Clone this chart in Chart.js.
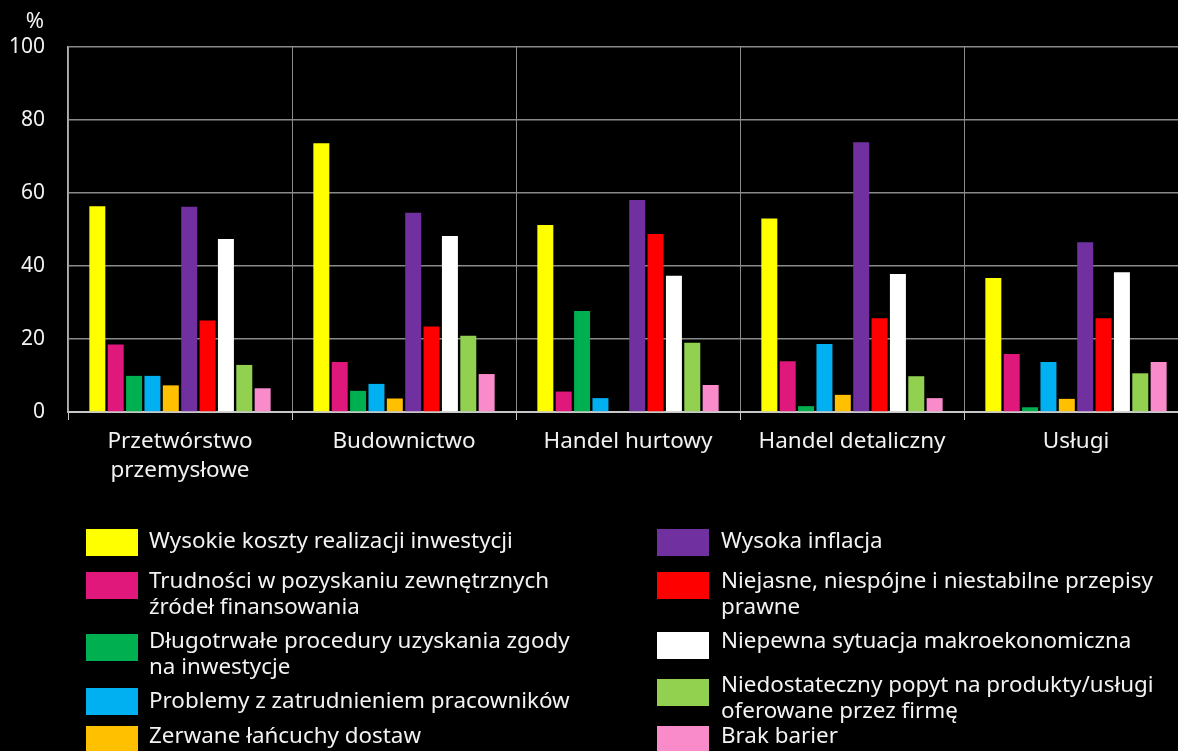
<!DOCTYPE html>
<html>
<head>
<meta charset="utf-8">
<script src="https://cdn.jsdelivr.net/npm/chart.js@4.4.1/dist/chart.umd.min.js"></script>
<style>
  html, body { margin: 0; padding: 0; background: #000; overflow: hidden; }
  #wrap { width: 1178px; height: 751px; overflow: hidden; }
</style>
</head>
<body>
<div id="wrap"><canvas id="chart" width="1190" height="751"></canvas></div>
<script>
// categories (sectors)
const categories = [['Przetwórstwo', 'przemysłowe'], 'Budownictwo', 'Handel hurtowy', 'Handel detaliczny', 'Usługi'];

// series names
const seriesNames = [
    ['Wysokie koszty realizacji inwestycji'],
    ['Trudności w pozyskaniu zewnętrznych', 'źródeł finansowania'],
    ['Długotrwałe procedury uzyskania zgody', 'na inwestycje'],
    ['Problemy z zatrudnieniem pracowników'],
    ['Zerwane łańcuchy dostaw'],
    ['Wysoka inflacja'],
    ['Niejasne, niespójne i niestabilne przepisy', 'prawne'],
    ['Niepewna sytuacja makroekonomiczna'],
    ['Niedostateczny popyt na produkty/usługi', 'oferowane przez firmę'],
    ['Brak barier']
];

// values in %, per series, in category order
const wysokieKoszty   = [56.4, 73.6, 51.2, 53.0, 36.7];
const trudnosciFin    = [18.5, 13.7, 5.6, 13.9, 15.9];
const procedury       = [9.9, 5.8, 27.7, 1.6, 1.3];
const zatrudnienie    = [9.9, 7.7, 3.8, 18.6, 13.7];
const lancuchyDostaw  = [7.3, 3.7, 0, 4.7, 3.6];
const inflacja        = [56.2, 54.6, 58.1, 73.9, 46.5];
const przepisy        = [25.1, 23.4, 48.8, 25.7, 25.7];
const sytuacjaMakro   = [47.4, 48.2, 37.3, 37.8, 38.3];
const popyt           = [12.9, 20.9, 19.0, 9.8, 10.6];
const brakBarier      = [6.5, 10.4, 7.4, 3.8, 13.7];

const yTicks = [0, 20, 40, 60, 80, 100];

const allValues = [wysokieKoszty, trudnosciFin, procedury, zatrudnienie, lancuchyDostaw,
                   inflacja, przepisy, sytuacjaMakro, popyt, brakBarier];
const colors = ['#FFFF00', '#E0187B', '#00B050', '#00B0F0', '#FFC000',
                '#7030A0', '#FF0000', '#FFFFFF', '#92D050', '#F98BCB'];

const FONT = '"Noto Sans", sans-serif';

// legend + "%" label drawn on the canvas
const legendPlugin = {
    id: 'customLegend',
    afterDraw(chart) {
        const ctx = chart.ctx;
        ctx.save();
        ctx.fillStyle = '#F2F2F2';
        ctx.font = '22px ' + FONT;
        ctx.textAlign = 'center';
        ctx.textBaseline = 'middle';
        ctx.fillText('%', 35, 22);

        // rows: [box top, first text line middle]
        const rowsLeft = [[529, 542], [572, 582], [634, 642], [688, 702], [726, 737]];
        const rowsRight = [[529, 542], [572, 582], [632, 642], [679, 686], [726, 737]];
        ctx.textAlign = 'left';
        ctx.font = '22.4px ' + FONT;
        for (let i = 0; i < seriesNames.length; i++) {
            const right = i >= 5;
            const row = right ? rowsRight[i - 5] : rowsLeft[i];
            const boxX = right ? 657 : 86;
            const textX = right ? 721 : 149;
            ctx.fillStyle = colors[i];
            ctx.fillRect(boxX, row[0], 52, 27);
            ctx.fillStyle = '#F2F2F2';
            seriesNames[i].forEach((line, k) => {
                ctx.fillText(line, textX, row[1] + k * 26);
            });
        }
        ctx.restore();
    }
};

const ctx = document.getElementById('chart').getContext('2d');
new Chart(ctx, {
    type: 'bar',
    data: {
        labels: categories,
        datasets: allValues.map((vals, i) => ({
            label: seriesNames[i].join(' '),
            data: vals,
            backgroundColor: colors[i],
            borderWidth: 0,
            categoryPercentage: 0.82,
            barPercentage: 0.87
        }))
    },
    options: {
        responsive: false,
        devicePixelRatio: 1,
        animation: false,
        layout: { padding: { top: 47, right: 2, bottom: 259, left: 0 } },
        plugins: {
            legend: { display: false },
            tooltip: { enabled: false }
        },
        scales: {
            x: {
                afterFit(scale) { scale.height = 80; },
                grid: {
                    offset: true,
                    color: '#8A8A8A',
                    lineWidth: 1,
                    tickLength: 8,
                    tickColor: '#C8C8C8'
                },
                border: { color: '#C8C8C8', width: 2 },
                ticks: {
                    color: '#F2F2F2',
                    font: { family: FONT, size: 22.5, lineHeight: 1.25 },
                    padding: 8,
                    maxRotation: 0,
                    autoSkip: false
                }
            },
            y: {
                min: 0,
                max: 100,
                afterFit(scale) { scale.width = 68; },
                afterBuildTicks(scale) { scale.ticks = yTicks.map(v => ({ value: v })); },
                grid: {
                    color: '#8A8A8A',
                    lineWidth: 1.5,
                    drawTicks: false
                },
                border: { color: '#B0B0B0', width: 1.5 },
                ticks: {
                    color: '#F2F2F2',
                    font: { family: FONT, size: 21 },
                    padding: 23
                }
            }
        }
    },
    plugins: [legendPlugin]
});
</script>
</body>
</html>
